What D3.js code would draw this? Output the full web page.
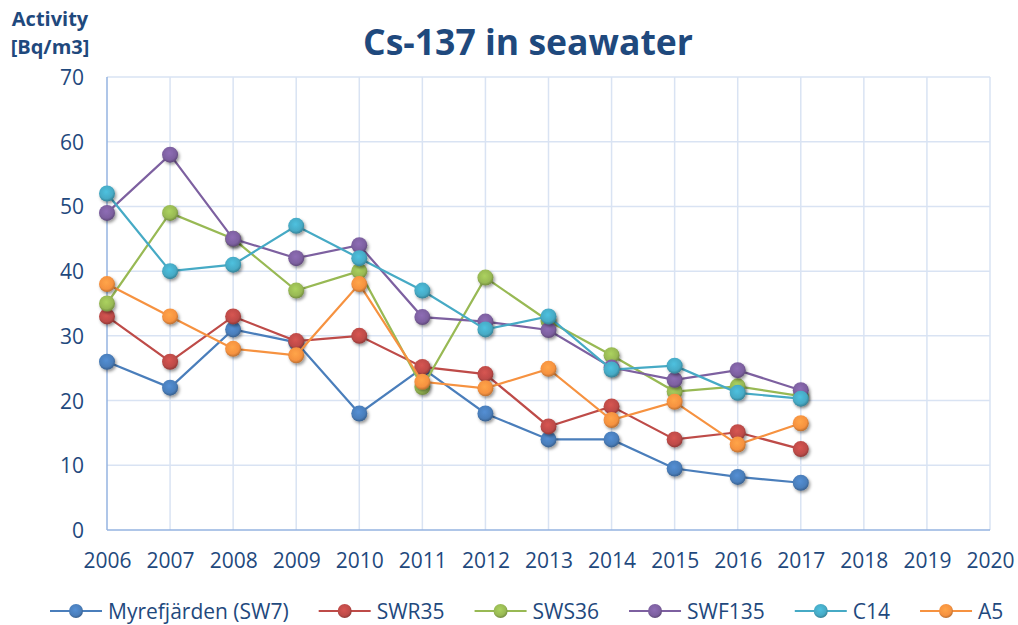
<!DOCTYPE html>
<html>
<head>
<meta charset="utf-8">
<script src="https://cdn.jsdelivr.net/npm/d3@7"></script>
<style>
  body { margin: 0; background: #fff; }
  svg { display: block; font-family: "Open Sans", "Noto Sans", sans-serif; }
</style>
</head>
<body>
<svg id="chart" width="1018" height="625"></svg>
<script>
var years = [2006, 2007, 2008, 2009, 2010, 2011, 2012, 2013, 2014, 2015, 2016, 2017];
var axisYears = d3.range(2006, 2021);
var yTicks = [0, 10, 20, 30, 40, 50, 60, 70];

var seriesNames = ["Myrefjärden (SW7)", "SWR35", "SWS36", "SWF135", "C14", "A5"];
var seriesColors = ["#4A7EBB", "#BE4B48", "#98B954", "#7D60A0", "#46AAC5", "#F69240"];

var myrefjarden = [26, 22, 31, 29, 18, 25, 18, 14, 14, 9.5, 8.2, 7.3];
var swr35 = [33, 26, 33, 29.2, 30, 25.2, 24.1, 16, 19.1, 14, 15.1, 12.5];
var sws36 = [35, 49, 45, 37, 40, 22.1, 39, 32.3, 27, 21.4, 22.2, 20.7];
var swf135 = [49, 58, 45, 42, 44, 32.9, 32.2, 30.9, 25.1, 23.2, 24.7, 21.6];
var c14 = [52, 40, 41, 47, 42, 37, 31, 33, 24.8, 25.4, 21.2, 20.3];
var a5 = [38, 33, 28, 27, 38, 22.9, 21.9, 24.9, 17, 19.8, 13.2, 16.5];

var seriesValues = [myrefjarden, swr35, sws36, swf135, c14, a5];

var svg = d3.select("#chart");
var textColor = "#1F497D";

var x = d3.scaleLinear().domain([2006, 2020]).range([107, 990]);
var y = d3.scaleLinear().domain([0, 70]).range([530, 77]);

// marker look: shaded ball + soft shadow
var defs = svg.append("defs");
var shadow = defs.append("filter").attr("id", "shadow")
    .attr("x", "-50%").attr("y", "-50%").attr("width", "200%").attr("height", "200%");
shadow.append("feDropShadow")
    .attr("dx", 1.5).attr("dy", 2).attr("stdDeviation", 1.6)
    .attr("flood-color", "#000").attr("flood-opacity", 0.4);

seriesColors.forEach(function(c, i) {
  var g = defs.append("radialGradient").attr("id", "ball" + i)
      .attr("cx", "45%").attr("cy", "40%").attr("r", "60%");
  g.append("stop").attr("offset", "0%").attr("stop-color", d3.color(c).brighter(0.35));
  g.append("stop").attr("offset", "70%").attr("stop-color", c);
  g.append("stop").attr("offset", "100%").attr("stop-color", d3.color(c).darker(0.8));
});

// gridlines
svg.append("g").selectAll("line.h")
  .data(yTicks.filter(function(d) { return d > 0; }))
  .enter().append("line")
    .attr("x1", x(2006)).attr("x2", x(2020))
    .attr("y1", function(d) { return y(d); }).attr("y2", function(d) { return y(d); })
    .attr("stroke", "#D9E3F3").attr("stroke-width", 1.5);

svg.append("g").selectAll("line.v")
  .data(axisYears.filter(function(d) { return d > 2006; }))
  .enter().append("line")
    .attr("x1", function(d) { return x(d); }).attr("x2", function(d) { return x(d); })
    .attr("y1", y(0)).attr("y2", y(70))
    .attr("stroke", "#D9E3F3").attr("stroke-width", 1.5);

// axis lines
svg.append("line")
    .attr("x1", x(2006)).attr("x2", x(2006)).attr("y1", y(0)).attr("y2", y(70))
    .attr("stroke", "#95B3E0").attr("stroke-width", 1.5);
svg.append("line")
    .attr("x1", x(2006)).attr("x2", x(2020)).attr("y1", y(0)).attr("y2", y(0))
    .attr("stroke", "#95B3E0").attr("stroke-width", 1.5);

// tick labels
var xAxis = svg.append("g")
    .attr("transform", "translate(0," + y(0) + ")")
    .call(d3.axisBottom(x).tickValues(axisYears).tickFormat(d3.format("d")).tickSize(0));
xAxis.select(".domain").remove();
xAxis.selectAll("text")
    .attr("y", 38).attr("dy", null)
    .attr("fill", textColor)
    .style("font-size", "21px").style("font-family", "'Open Sans', sans-serif");

var yAxis = svg.append("g")
    .attr("transform", "translate(" + x(2006) + ",0)")
    .call(d3.axisLeft(y).tickValues(yTicks).tickSize(0));
yAxis.select(".domain").remove();
yAxis.selectAll("text")
    .attr("x", -23).attr("dy", "0.36em")
    .attr("fill", textColor)
    .style("font-size", "21px").style("font-family", "'Open Sans', sans-serif");

// series
var line = d3.line()
    .x(function(d, i) { return x(years[i]); })
    .y(function(d) { return y(d); });

seriesValues.forEach(function(vals, si) {
  var g = svg.append("g");
  g.append("path")
      .attr("d", line(vals))
      .attr("fill", "none")
      .attr("stroke", seriesColors[si])
      .attr("stroke-width", 2.2);
  g.selectAll("circle")
    .data(vals)
    .enter().append("circle")
      .attr("cx", function(d, i) { return x(years[i]); })
      .attr("cy", function(d) { return y(d); })
      .attr("r", 8)
      .attr("fill", "url(#ball" + si + ")")
      .attr("filter", "url(#shadow)");
});

// title
svg.append("text")
    .attr("x", 528).attr("y", 55)
    .attr("text-anchor", "middle")
    .attr("textLength", 330).attr("lengthAdjust", "spacingAndGlyphs")
    .attr("fill", textColor)
    .style("font-size", "36px").style("font-weight", "bold")
    .text("Cs-137 in seawater");

// y axis title
var yt = svg.append("text")
    .attr("text-anchor", "middle")
    .attr("fill", textColor)
    .style("font-size", "20px").style("font-weight", "bold");
yt.append("tspan").attr("x", 50).attr("y", 26).text("Activity");
yt.append("tspan").attr("x", 50).attr("y", 54).text("[Bq/m3]");

// legend
var legendX = 50, legendY = 611;
seriesNames.forEach(function(name, si) {
  var g = svg.append("g").attr("transform", "translate(" + legendX + "," + legendY + ")");
  g.append("line")
      .attr("x1", 0).attr("x2", 52).attr("y1", 0).attr("y2", 0)
      .attr("stroke", seriesColors[si]).attr("stroke-width", 2.2);
  g.append("circle")
      .attr("cx", 26).attr("cy", 0).attr("r", 7)
      .attr("fill", "url(#ball" + si + ")");
  var t = g.append("text")
      .attr("x", 58).attr("dy", "0.36em")
      .attr("fill", textColor)
      .style("font-size", "21px")
      .text(name);
  legendX += 58 + t.node().getComputedTextLength() + 30;
});
</script>
</body>
</html>
